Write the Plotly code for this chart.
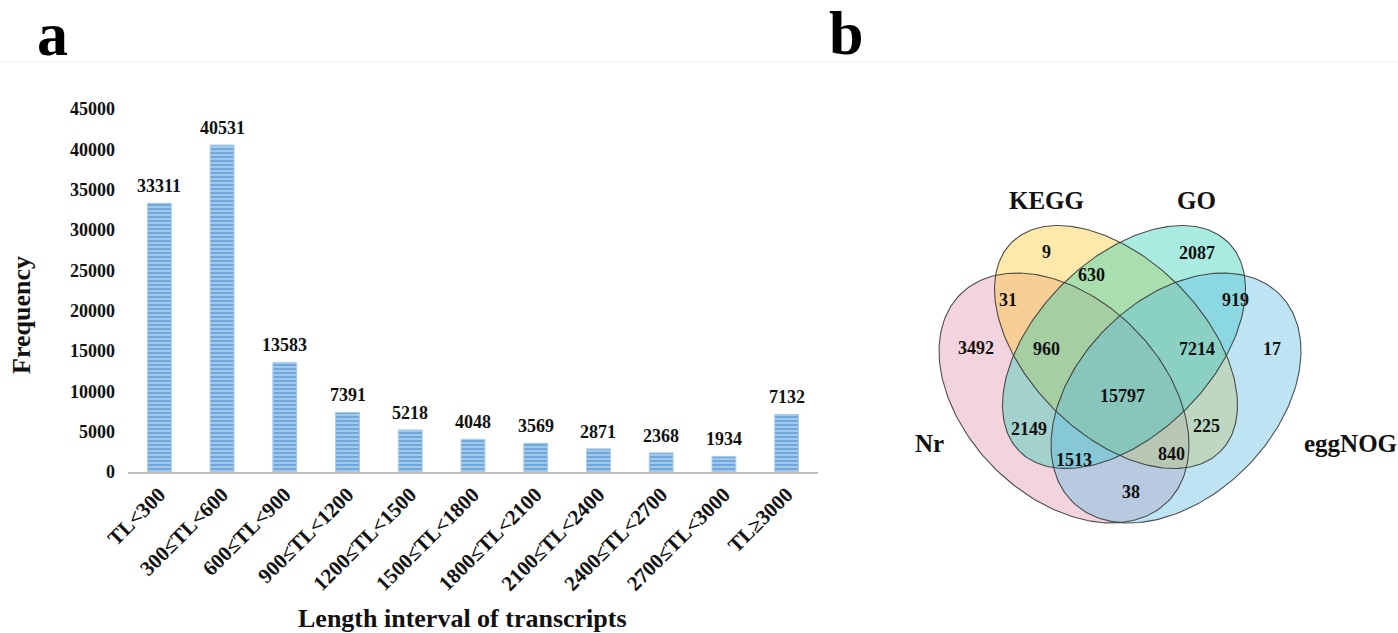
import numpy as np
import plotly.graph_objects as go

# ---------------- panel a: transcript length distribution ----------------
length_bins = ["TL<300", "300≤TL<600", "600≤TL<900", "900≤TL<1200", "1200≤TL<1500",
               "1500≤TL<1800", "1800≤TL<2100", "2100≤TL<2400", "2400≤TL<2700",
               "2700≤TL<3000", "TL≥3000"]
frequency = [33311, 40531, 13583, 7391, 5218, 4048, 3569, 2871, 2368, 1934, 7132]
freq_ticks = [0, 5000, 10000, 15000, 20000, 25000, 30000, 35000, 40000, 45000]

# ---------------- panel b: annotation database overlap ----------------
set_names = ["Nr", "KEGG", "GO", "eggNOG"]
region_members = [
    ("KEGG",), ("GO",), ("Nr", "KEGG"), ("KEGG", "GO"), ("GO", "eggNOG"),
    ("Nr",), ("Nr", "KEGG", "GO"), ("KEGG", "GO", "eggNOG"), ("eggNOG",),
    ("Nr", "KEGG", "GO", "eggNOG"), ("Nr", "GO"), ("KEGG", "eggNOG"),
    ("Nr", "GO", "eggNOG"), ("Nr", "KEGG", "eggNOG"), ("Nr", "eggNOG"),
]
region_counts = [9, 2087, 31, 630, 919, 3492, 960, 7214, 17, 15797, 2149, 225, 1513, 840, 38]

# ---------------- styling / geometry ----------------
W, H = 1398, 633
SERIF = "Liberation Serif"

def bold(size, color="#111111"):
    return dict(family=SERIF, size=size, color=color, weight="bold")

# plot box of the bar chart, in page pixels
bx0, bx1 = 128, 818
by_top, by_bot = 109, 472
# page strip used by the Venn panel
vx0 = 880

# ellipse shapes (centre x, centre y, semi-major, semi-minor, tilt in degrees; y grows downwards)
ellipse_geom = {
    "Nr":     (1064, 398, 146.6, 98.7, 45),
    "KEGG":   (1116, 347, 147.7, 87.8, 45),
    "GO":     (1124, 347, 147.7, 87.8, 135),
    "eggNOG": (1176, 398, 146.6, 98.7, 135),
}
ellipse_fill = {
    "Nr": "rgba(225,147,172,0.4)",
    "KEGG": "rgba(252,200,42,0.4)",
    "GO": "rgba(42,205,180,0.4)",
    "eggNOG": "rgba(92,187,227,0.4)",
}
draw_order = ["Nr", "KEGG", "GO", "eggNOG"]

region_label_xy = [
    (1046, 252), (1197, 253), (1008, 300), (1091, 275), (1235, 300),
    (976, 348), (1046, 349), (1197, 349), (1272, 349),
    (1122, 396), (1029, 429), (1206, 426),
    (1074, 460), (1171, 454), (1131, 492),
]
set_label_xy = {"Nr": (929, 443), "KEGG": (1046, 200), "GO": (1196, 200), "eggNOG": (1350, 443)}


def ellipse_path(cx, cy, a, b, tilt, n=240):
    t = np.linspace(0, 2 * np.pi, n)
    ang = np.deg2rad(tilt)
    ux, uy = np.cos(ang), np.sin(ang)
    vx, vy = -np.sin(ang), np.cos(ang)
    xs = cx + a * np.cos(t) * ux + b * np.sin(t) * vx
    ys = cy + a * np.cos(t) * uy + b * np.sin(t) * vy
    return xs, ys


def page_text(x, y, text, font, **kw):
    return dict(x=x / W, y=1 - y / H, xref="paper", yref="paper", text=text,
                xanchor="center", yanchor="middle", showarrow=False, font=font, **kw)


fig = go.Figure()

fig.add_trace(go.Bar(
    x=length_bins, y=frequency,
    marker=dict(
        color="#6FA8DC",
        line=dict(color="#A9CBEC", width=1),
        pattern=dict(shape="-", fgcolor="#C6DDF3", bgcolor="#6FA8DC",
                     size=4, solidity=0.3, fillmode="replace"),
    ),
    hoverinfo="skip", showlegend=False,
))

# Venn fills, then the outlines on top
for name in draw_order:
    xs, ys = ellipse_path(*ellipse_geom[name])
    fig.add_trace(go.Scatter(x=xs, y=ys, mode="lines", fill="toself",
                             fillcolor=ellipse_fill[name], line=dict(width=0),
                             xaxis="x2", yaxis="y2", hoverinfo="skip", showlegend=False))
for name in draw_order:
    xs, ys = ellipse_path(*ellipse_geom[name])
    fig.add_trace(go.Scatter(x=xs, y=ys, mode="lines",
                             line=dict(color="rgba(50,50,50,0.85)", width=1.1),
                             xaxis="x2", yaxis="y2", hoverinfo="skip", showlegend=False))

annotations = []
# value labels above each bar
for cat, val in zip(length_bins, frequency):
    annotations.append(dict(x=cat, y=val, xref="x", yref="y", text=str(val),
                            xanchor="center", yanchor="middle", yshift=17,
                            showarrow=False, font=bold(18)))
for count, (x, y) in zip(region_counts, region_label_xy):
    annotations.append(page_text(x, y, str(count), bold(18)))
for name in set_names:
    x, y = set_label_xy[name]
    annotations.append(page_text(x, y, name, bold(25)))

# panel letters and axis titles
annotations += [
    page_text(52, 34, "a", bold(62, "#000000")),
    page_text(846, 33, "b", bold(62, "#000000")),
    page_text(462, 618, "Length interval of transcripts", bold(26)),
    page_text(22, 315, "Frequency", bold(26), textangle=-90),
]

fig.update_layout(
    width=W, height=H,
    margin=dict(l=0, r=0, t=0, b=0, pad=0, autoexpand=False),
    paper_bgcolor="white", plot_bgcolor="rgba(0,0,0,0)",
    bargap=0.62,
    annotations=annotations,
    shapes=[dict(type="line", xref="paper", yref="paper", x0=0, x1=1,
                 y0=1 - 62 / H, y1=1 - 62 / H, line=dict(color="#F2F2F2", width=1))],
    xaxis=dict(
        domain=[bx0 / W, bx1 / W], type="category", automargin=False,
        showline=True, linecolor="#BFBFBF", linewidth=2,
        showgrid=False, zeroline=False, ticks="",
        tickangle=-45, tickfont=bold(21),
    ),
    yaxis=dict(
        domain=[1 - by_bot / H, 1 - by_top / H], range=[0, 45000], automargin=False,
        tickvals=freq_ticks, ticktext=[str(v) for v in freq_ticks],
        showgrid=False, zeroline=False, showline=False, ticks="",
        tickfont=bold(18), ticklabelstandoff=12,
    ),
    xaxis2=dict(domain=[vx0 / W, 1], range=[vx0, W], visible=False, anchor="y2",
                automargin=False),
    yaxis2=dict(domain=[0, 1], range=[H, 0], visible=False, anchor="x2", automargin=False),
)

fig.write_html("out.html", config={"displayModeBar": False})
